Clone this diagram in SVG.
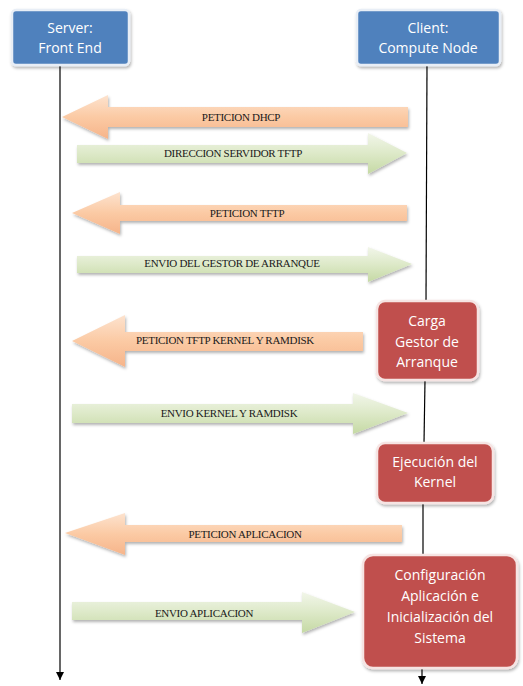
<svg xmlns="http://www.w3.org/2000/svg" width="523" height="686" viewBox="0 0 523 686">
<defs>
<linearGradient id="gOr" x1="0" y1="0" x2="0" y2="1">
<stop offset="0" stop-color="#fde3cf"/>
<stop offset="0.5" stop-color="#fbcaa4"/>
<stop offset="1" stop-color="#f6b48a"/>
</linearGradient>
<linearGradient id="gGr" x1="0" y1="0" x2="0" y2="1">
<stop offset="0" stop-color="#f2f6ea"/>
<stop offset="0.5" stop-color="#dde9c8"/>
<stop offset="1" stop-color="#c5d9a4"/>
</linearGradient>
<filter id="sh" x="-10%" y="-20%" width="120%" height="150%">
<feDropShadow dx="1" dy="2" stdDeviation="1.5" flood-color="#000" flood-opacity="0.3"/>
</filter>
<marker id="ah" viewBox="0 0 10 10" refX="10" refY="5" markerWidth="8" markerHeight="8" orient="auto" markerUnits="userSpaceOnUse">
<path d="M0,0 L10,5 L0,10 z" fill="#000"/>
</marker>
<style>
.life{stroke:#000;stroke-width:1.2;fill:none}
.or{fill:url(#gOr);filter:url(#sh)}
.gr{fill:url(#gGr);filter:url(#sh)}
.lbl{font-family:"Liberation Serif","Times New Roman",serif;font-size:11px;fill:#1a1a1a;text-anchor:middle;letter-spacing:-0.3px}
.blue{fill:#4f81bd;stroke:#e8eef6;stroke-width:2.5;filter:url(#sh)}
.red{fill:#c0504d;stroke:#f6e4e3;stroke-width:2.5;filter:url(#sh)}
.bt{font-family:"Open Sans","Noto Sans",sans-serif;font-size:14px;fill:#fff;text-anchor:middle}
</style>
</defs>

<g id="connectors">
<line class="life" x1="60" y1="65" x2="60" y2="680" marker-end="url(#ah)"/>
<line class="life" x1="427" y1="65" x2="426" y2="301"/>
<line class="life" x1="425" y1="380" x2="424" y2="443"/>
<line class="life" x1="423" y1="503" x2="423" y2="555"/>
<line class="life" x1="422" y1="668" x2="422" y2="684" marker-end="url(#ah)"/>

<g id="msg1">
<path class="or" d="M408,107 L108,107 L108,95 L62,117 L108,139 L108,127 L408,127 Z"/>
<text class="lbl" x="241" y="121">PETICION DHCP</text>
</g>
<g id="msg2">
<path class="gr" d="M77,145 L368,145 L368,133 L407,153 L368,174 L368,163 L77,163 Z"/>
<text class="lbl" x="233" y="157">DIRECCION SERVIDOR TFTP</text>
</g>
<g id="msg3">
<path class="or" d="M407,205 L120,205 L120,192 L72,213 L120,234 L120,221 L407,221 Z"/>
<text class="lbl" x="247" y="217">PETICION TFTP</text>
</g>
<g id="msg4">
<path class="gr" d="M77,256 L368,256 L368,247 L412,264 L368,282 L368,273 L77,273 Z"/>
<text class="lbl" x="232" y="267">ENVIO DEL GESTOR DE ARRANQUE</text>
</g>
<g id="msg5">
<path class="or" d="M363,332 L125,332 L125,315 L72,341 L125,367 L125,351 L363,351 Z"/>
<text class="lbl" x="225" y="344">PETICION TFTP KERNEL Y RAMDISK</text>
</g>
<g id="msg6">
<path class="gr" d="M72,404 L353,404 L353,393 L408,413 L353,434 L353,423 L72,423 Z"/>
<text class="lbl" x="229" y="417">ENVIO KERNEL Y RAMDISK</text>
</g>
<g id="msg7">
<path class="or" d="M402,525 L125,525 L125,513 L65,533 L125,555 L125,542 L402,542 Z"/>
<text class="lbl" x="245" y="538">PETICION APLICACION</text>
</g>
<g id="msg8">
<path class="gr" d="M72,602 L302,602 L302,592 L355,612 L302,633 L302,620 L72,620 Z"/>
<text class="lbl" x="204" y="617">ENVIO APLICACION</text>
</g>
</g>

<g id="server">
<rect class="blue" x="12" y="10" width="117" height="55" rx="4"/>
<text class="bt" x="70" y="33">Server:</text>
<text class="bt" x="70" y="53">Front End</text>
</g>
<g id="client">
<rect class="blue" x="357" y="10" width="143" height="55" rx="4"/>
<text class="bt" x="428" y="33">Client:</text>
<text class="bt" x="428" y="53">Compute Node</text>
</g>
<g id="carga">
<rect class="red" x="377" y="301" width="101" height="79" rx="8"/>
<text class="bt" x="427" y="326">Carga</text>
<text class="bt" x="427" y="347">Gestor de</text>
<text class="bt" x="427" y="367">Arranque</text>
</g>
<g id="ejecucion">
<rect class="red" x="377" y="443" width="116" height="60" rx="8"/>
<text class="bt" x="435" y="467">Ejecución del</text>
<text class="bt" x="435" y="487">Kernel</text>
</g>
<g id="config">
<rect class="red" x="363" y="555" width="154" height="113" rx="10"/>
<text class="bt" x="440" y="580">Configuración</text>
<text class="bt" x="440" y="601">Aplicación e</text>
<text class="bt" x="440" y="622">Inicialización del</text>
<text class="bt" x="440" y="643">Sistema</text>
</g>
</svg>
